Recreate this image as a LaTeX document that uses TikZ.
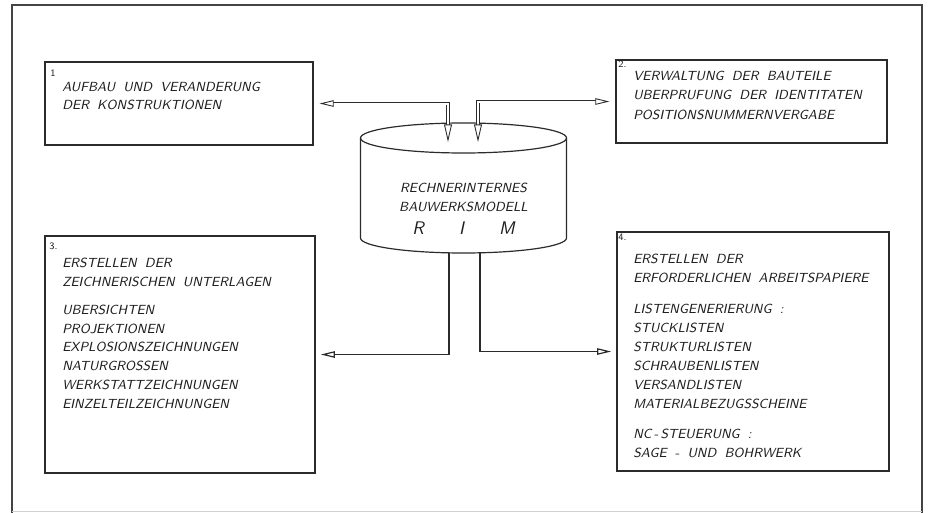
\documentclass[tikz,border=0pt]{standalone}
\usepackage{fontspec}
\usepackage{tikz}
\usetikzlibrary{arrows.meta}
\usetikzlibrary{calc}

\newcommand{\boxfont}{\sffamily\itshape\fontsize{9.4}{13.3}\selectfont\spaceskip=0.62em plus 0.1em\relax}

\begin{document}
\begin{tikzpicture}
        \definecolor{glinecolor}{HTML}{2B2B2B}
        \definecolor{gframecolor}{HTML}{444444}
        \definecolor{gtextcolor}{HTML}{1E1E1E}
        \tikzstyle{every node}=[text=gtextcolor,inner sep=0pt,font=\boxfont]
        \tikzstyle{box}=[rectangle,draw=glinecolor,line width=0.03cm]
        \tikzstyle{txt}=[anchor=north west,align=left]
        \tikzstyle{num}=[anchor=west,font=\sffamily\fontsize{7}{8}\selectfont]
        \tikzset{side tip/.tip={Triangle[fill=white,length=10pt,width=4.6pt]}}
        \tikzset{down tip/.tip={Triangle[fill=white,length=12.5pt,width=5.6pt]}}
        \tikzset{hollow link/.style={{side tip}-{down tip},draw=glinecolor,double,double distance=0.05cm,line width=0.022cm,shorten <=0.15cm}}
        \tikzset{plain link/.style={-{side tip},draw=glinecolor,line width=0.03cm,shorten >=0.13cm}}

        \useasboundingbox (0cm,0cm) rectangle (23.2cm,-12.825cm);
        \draw [gframecolor, line width=0.03cm] (0.3cm,-12.825cm) -- (0.3cm,-0.125cm) -- (23.05cm,-0.125cm) -- (23.05cm,-12.825cm);
        \draw [gframecolor!25, line width=0.03cm] (0.3cm,-12.79cm) -- (23.05cm,-12.79cm);

        % the four task boxes
        \node [box, minimum width=6.7cm, minimum height=2.075cm] (b1) at (4.475cm,-2.588cm) {};
        \node [box, minimum width=6.775cm, minimum height=2.075cm] (b2) at (18.788cm,-2.538cm) {};
        \node [box, minimum width=6.75cm, minimum height=5.925cm] (b3) at (4.5cm,-8.863cm) {};
        \node [box, minimum width=6.8cm, minimum height=5.975cm] (b4) at (18.825cm,-8.788cm) {};

        \node [num] (n1) at (1.25cm,-1.825cm) {1};
        \node [num] (n2) at (15.45cm,-1.6cm) {2.};
        \node [num] (n3) at (1.225cm,-6.15cm) {3.};
        \node [num] (n4) at (15.45cm,-5.925cm) {4.};

        \node [txt] (t1) at (1.55cm,-2.04cm) {AUFBAU UND VERANDERUNG\\DER KONSTRUKTIONEN};
        \node [txt] (t2) at (15.825cm,-1.765cm) {VERWALTUNG DER BAUTEILE\\[0.7pt]UBERPRUFUNG DER IDENTITATEN\\[0.7pt]POSITIONSNUMMERNVERGABE};
        \node [txt] (t3) at (1.55cm,-6.44cm) {ERSTELLEN DER\\ZEICHNERISCHEN UNTERLAGEN\\[7pt]UBERSICHTEN\\PROJEKTIONEN\\EXPLOSIONSZEICHNUNGEN\\NATURGROSSEN\\WERKSTATTZEICHNUNGEN\\EINZELTEILZEICHNUNGEN};
        \node [txt] (t4) at (15.825cm,-6.34cm) {ERSTELLEN DER\\[0.3pt]ERFORDERLICHEN ARBEITSPAPIERE\\[8.5pt]LISTENGENERIERUNG :\\[0.3pt]STUCKLISTEN\\[0.3pt]STRUKTURLISTEN\\[0.3pt]SCHRAUBENLISTEN\\[0.3pt]VERSANDLISTEN\\[0.3pt]MATERIALBEZUGSSCHEINE\\[8pt]NC\,-\,STEUERUNG :\\[0.3pt]SAGE - UND BOHRWERK};

        % the model store
        \draw [glinecolor, line width=0.03cm] (11.588cm,-3.45cm) ellipse [x radius=2.575cm, y radius=0.375cm];
        \draw [glinecolor, line width=0.03cm] (9.013cm,-3.45cm) -- (9.013cm,-5.95cm)
            arc [start angle=180, end angle=360, x radius=2.575cm, y radius=0.375cm] -- (14.163cm,-3.45cm);
        \node [align=center] (rim) at (11.588cm,-4.938cm) {RECHNERINTERNES\\BAUWERKSMODELL};
        \node [font=\sffamily\itshape\fontsize{13}{15}\selectfont] (rimlbl) at (11.588cm,-5.7cm) {R\hspace{25pt}I\hspace{25pt}M};

        \coordinate (tl) at (11.2cm,-3.55cm);
        \coordinate (tr) at (11.95cm,-3.55cm);
        \coordinate (bl) at (11.225cm,-6.325cm);
        \coordinate (br) at (12.0cm,-6.325cm);

        \draw [hollow link] (b1.east) -| (tl);
        \draw [hollow link] (b2.west) -| (tr);
        \draw [plain link] (bl) |- (b3.east);
        \draw [plain link] (br) |- (b4.west);
    \end{tikzpicture}
\end{document}
